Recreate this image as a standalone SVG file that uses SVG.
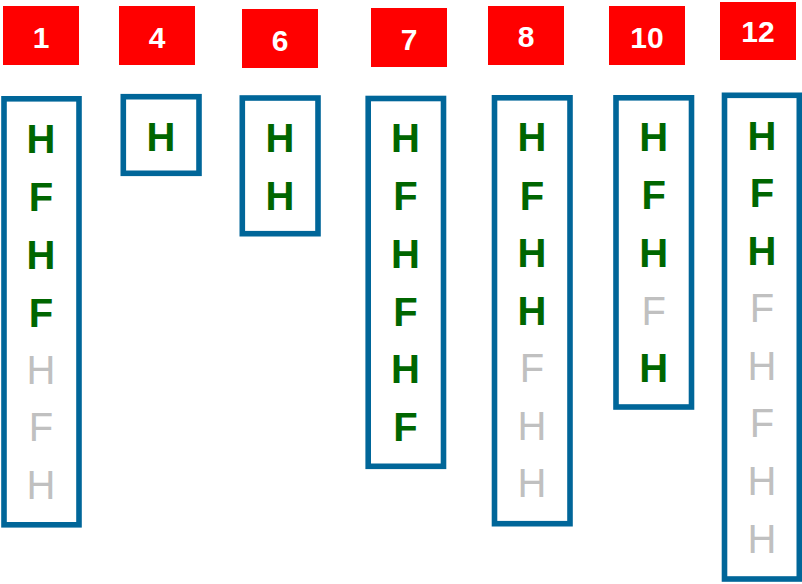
<svg xmlns="http://www.w3.org/2000/svg" width="802" height="584" viewBox="0 0 802 584">
<style>
.lbl{fill:#FF0000}
.num{font-family:"Liberation Sans",Arial,sans-serif;font-weight:bold;font-size:30px;fill:#FFFFFF;text-anchor:middle}
.box{fill:#FFFFFF;stroke:#006699;stroke-width:5.6}
.on{font-family:"Liberation Sans",Arial,sans-serif;font-weight:bold;font-size:40px;fill:#006600;text-anchor:middle}
.off{font-family:"Liberation Sans",Arial,sans-serif;font-size:40px;fill:#C0C0C0;text-anchor:middle}
</style>
<rect width="802" height="584" fill="#FFFFFF"/>
<g id="col1">
<rect class="lbl" x="3" y="6" width="76" height="59"/>
<text class="num" x="41" y="48">1</text>
<rect class="box" x="4" y="98.8" width="75" height="426"/>
<text class="on" x="41" y="153">H</text>
<text class="on" x="41" y="211">F</text>
<text class="on" x="41" y="269">H</text>
<text class="on" x="41" y="326.5">F</text>
<text class="off" x="41" y="383.5">H</text>
<text class="off" x="41" y="441">F</text>
<text class="off" x="41" y="499">H</text>
</g>
<g id="col4">
<rect class="lbl" x="119" y="6" width="76" height="59"/>
<text class="num" x="157" y="47.5">4</text>
<rect class="box" x="123.3" y="96.7" width="75.7" height="76.6"/>
<text class="on" x="161" y="151.3">H</text>
</g>
<g id="col6">
<rect class="lbl" x="242" y="9" width="76" height="59"/>
<text class="num" x="280" y="50.7">6</text>
<rect class="box" x="242.3" y="98" width="75.7" height="135.7"/>
<text class="on" x="280" y="151.7">H</text>
<text class="on" x="280" y="210">H</text>
</g>
<g id="col7">
<rect class="lbl" x="371" y="8" width="76" height="59"/>
<text class="num" x="409" y="49.5">7</text>
<rect class="box" x="368.2" y="98.5" width="75.3" height="367.8"/>
<text class="on" x="405.5" y="151.7">H</text>
<text class="on" x="405.5" y="210">F</text>
<text class="on" x="405.5" y="268">H</text>
<text class="on" x="405.5" y="326">F</text>
<text class="on" x="405.5" y="382.7">H</text>
<text class="on" x="405.5" y="440.7">F</text>
</g>
<g id="col8">
<rect class="lbl" x="488" y="6" width="76" height="59"/>
<text class="num" x="526" y="46.7">8</text>
<rect class="box" x="494.5" y="97.8" width="75.5" height="425.9"/>
<text class="on" x="532" y="151">H</text>
<text class="on" x="532" y="210">F</text>
<text class="on" x="532" y="266.7">H</text>
<text class="on" x="532" y="325">H</text>
<text class="off" x="532" y="382">F</text>
<text class="off" x="532" y="440">H</text>
<text class="off" x="532" y="497.3">H</text>
</g>
<g id="col10">
<rect class="lbl" x="609" y="6" width="76" height="59"/>
<text class="num" x="647" y="48.3">10</text>
<rect class="box" x="616" y="97.8" width="75.5" height="309.2"/>
<text class="on" x="653.7" y="151">H</text>
<text class="on" x="653.7" y="209">F</text>
<text class="on" x="653.7" y="266.7">H</text>
<text class="off" x="653.7" y="324.5">F</text>
<text class="on" x="653.7" y="381.7">H</text>
</g>
<g id="col12">
<rect class="lbl" x="720" y="2" width="76" height="58"/>
<text class="num" x="758" y="41.7">12</text>
<rect class="box" x="724.5" y="95.3" width="74.8" height="483.7"/>
<text class="on" x="762" y="150">H</text>
<text class="on" x="762" y="206.7">F</text>
<text class="on" x="762" y="265">H</text>
<text class="off" x="762" y="321.7">F</text>
<text class="off" x="762" y="380">H</text>
<text class="off" x="762" y="437.3">F</text>
<text class="off" x="762" y="495">H</text>
<text class="off" x="762" y="553.3">H</text>
</g>
<g id="connectors"/>
</svg>
